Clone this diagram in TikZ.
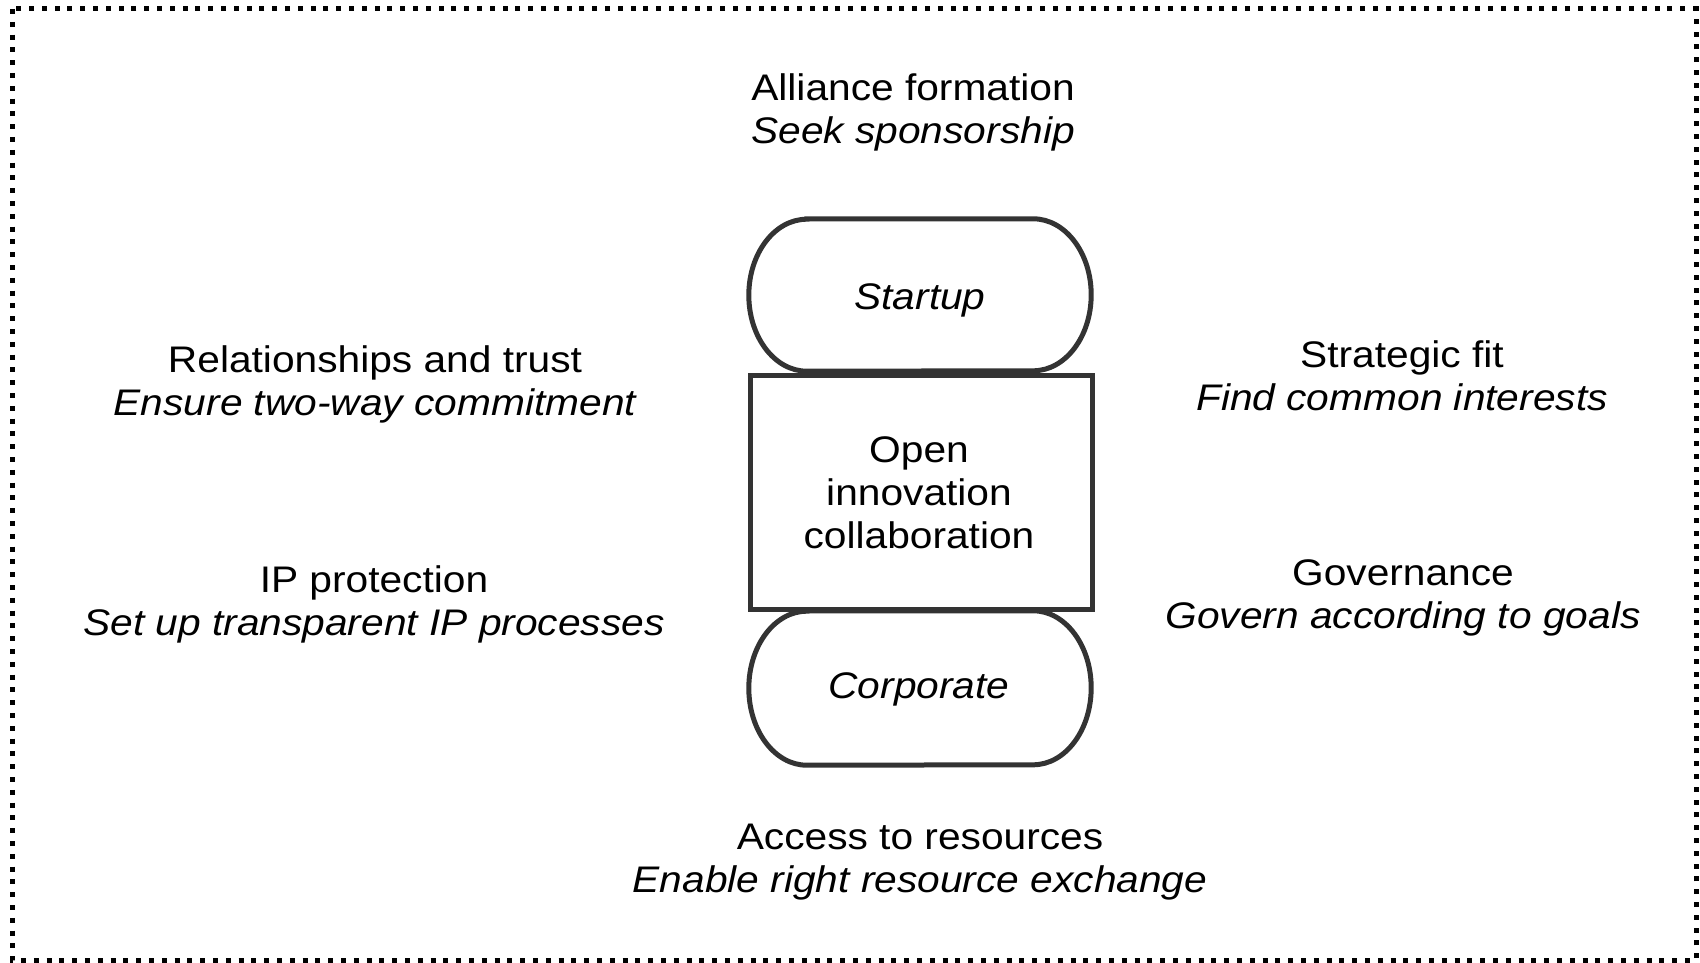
\documentclass[tikz,border=0pt]{standalone}
\usepackage{fontspec}
\setmainfont{Liberation Sans}[FakeStretch=1.1]
\usetikzlibrary{calc}

\definecolor{edgegray}{HTML}{333333}

\tikzset{
  frame/.style={line width=5pt, dash pattern=on 5pt off 7.8pt, black},
  shapeline/.style={line width=5pt, draw=edgegray},
  holder/.style={inner sep=0pt, minimum width=342pt, minimum height=152pt},
  % captions are anchored at the baseline of their last line
  caption/.style={align=center, inner sep=0pt, anchor=base,
    font=\fontsize{37}{43}\selectfont},
}

\begin{document}
\begin{tikzpicture}[x=1pt,y=1pt]
  \useasboundingbox (0,0) rectangle (1700,-963);

  % outer dotted frame
  \draw[frame] (12,-9) rectangle (1696,-960);

  % stadium-shaped party boxes
  \node[holder] (startup) at (920,-295) {};
  \node[holder, minimum height=154pt] (corporate) at (920,-688) {};
  \foreach \n/\ry in {startup/76, corporate/77}{
    \draw[shapeline, fill=white]
      ([xshift=58pt]\n.north west) -- ([xshift=-58pt]\n.north east)
      arc[start angle=90, end angle=-90, x radius=58pt, y radius=\ry pt]
      -- ([xshift=58pt]\n.south west)
      arc[start angle=270, end angle=90, x radius=58pt, y radius=\ry pt]
      -- cycle;
  }

  % central collaboration box
  \node[shapeline, fill=white, inner sep=0pt, minimum width=342pt,
        minimum height=234pt] (collab) at (921,-492) {};

  \node[caption] (startuplbl) at (920,-309) {\itshape Startup};
  \node[caption] (corplbl) at (919,-698) {\itshape Corporate};
  \node[caption] (collablbl) at (919,-548) {Open\\innovation\\collaboration};

  % success factors around the collaboration
  \node[caption] (alliance) at (913,-143.5)
    {Alliance formation\\\itshape Seek sponsorship};
  \node[caption] (trust) at (375,-415)
    {Relationships and trust\\\itshape Ensure two-way commitment};
  \node[caption] (ip) at (374,-635.5)
    {IP protection\\\itshape Set up transparent IP processes};
  \node[caption] (fit) at (1402,-410.5)
    {Strategic fit\\\itshape Find common interests};
  \node[caption] (gov) at (1403,-628.5)
    {Governance\\\itshape Govern according to goals};
  \node[caption] (access) at (920,-892.5)
    {Access to resources\\\itshape Enable right resource exchange};
\end{tikzpicture}
\end{document}
